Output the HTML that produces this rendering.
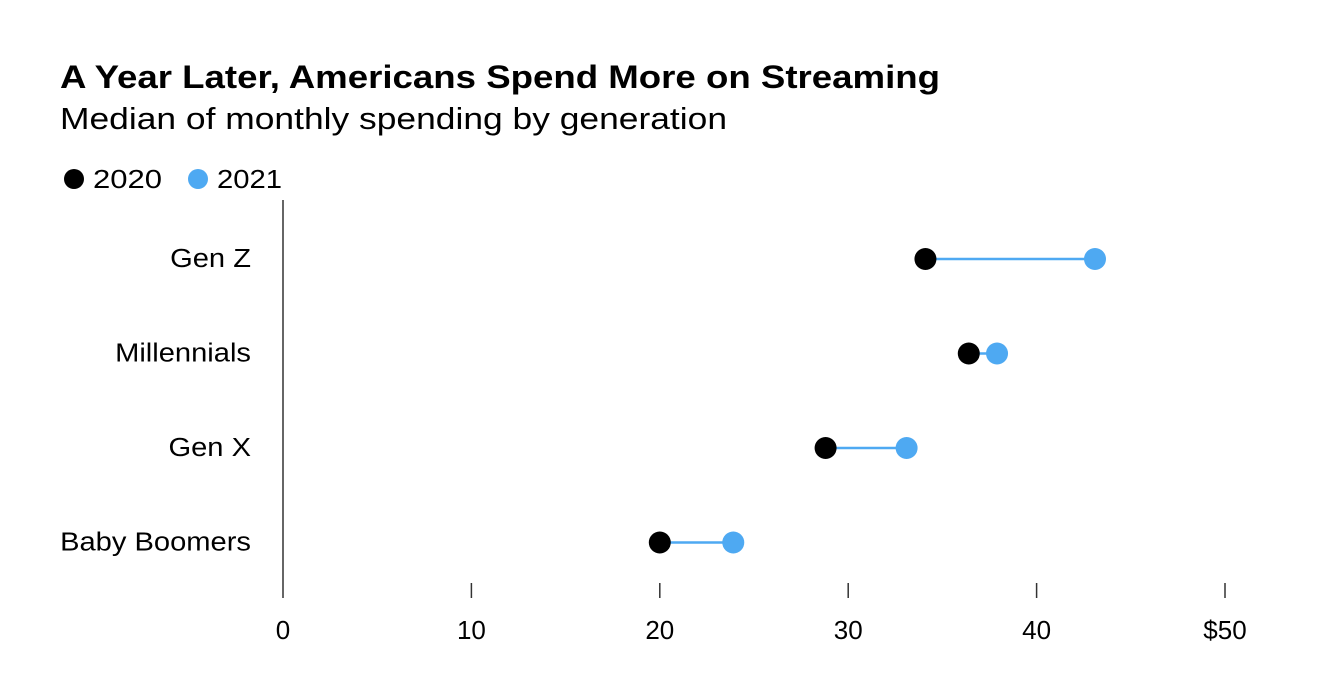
<!DOCTYPE html>
<html>
<head>
<meta charset="utf-8">
<style>
  html,body{margin:0;padding:0;background:#fff;}
  body{width:1342px;height:680px;overflow:hidden;font-family:"Liberation Sans",Arial,sans-serif;}
  svg text{font-family:"Liberation Sans",Arial,sans-serif;}
</style>
</head>
<body>
<svg id="chart" width="1342" height="680" viewBox="0 0 1342 680">
  <text x="60" y="88" font-size="32" font-weight="bold" fill="#000" textLength="880" lengthAdjust="spacingAndGlyphs">A Year Later, Americans Spend More on Streaming</text>
  <text x="60" y="129" font-size="31" fill="#000" textLength="667" lengthAdjust="spacingAndGlyphs">Median of monthly spending by generation</text>
  <g>
    <circle cx="74" cy="179" r="10" fill="#000"/>
    <text x="93" y="188" font-size="26" fill="#000" textLength="69" lengthAdjust="spacingAndGlyphs">2020</text>
    <circle cx="198" cy="179" r="10" fill="#4ea9f2"/>
    <text x="217" y="188" font-size="26" fill="#000" textLength="65" lengthAdjust="spacingAndGlyphs">2021</text>
  </g>
  <line x1="283" y1="200" x2="283" y2="598" stroke="#333" stroke-width="1.5"/>
  <g id="xaxis"></g>
  <g id="rows"></g>
</svg>
<script>
const categories = ["Gen Z", "Millennials", "Gen X", "Baby Boomers"];
const values2020 = [34.1, 36.4, 28.8, 20.0];
const values2021 = [43.1, 37.9, 33.1, 23.9];
const tickValues = [0, 10, 20, 30, 40, 50];
const tickLabels = ["0", "10", "20", "30", "40", "$50"];

const NS = "http://www.w3.org/2000/svg";
const x = v => 283 + v * (1225 - 283) / 50;
const y = i => 259 + i * 94.5;

const xaxis = document.getElementById("xaxis");
tickValues.forEach((t, i) => {
  if (t !== 0) {
    const l = document.createElementNS(NS, "line");
    l.setAttribute("x1", x(t)); l.setAttribute("x2", x(t));
    l.setAttribute("y1", 583); l.setAttribute("y2", 598);
    l.setAttribute("stroke", "#333"); l.setAttribute("stroke-width", 1.5);
    
    
    xaxis.appendChild(l);
  }
  const tx = document.createElementNS(NS, "text");
  tx.setAttribute("x", x(t)); tx.setAttribute("y", 639);
  tx.setAttribute("text-anchor", "middle"); tx.setAttribute("font-size", "26");
  tx.textContent = tickLabels[i];
  
  
  xaxis.appendChild(tx);
});

const rows = document.getElementById("rows");
categories.forEach((c, i) => {
  const g = document.createElementNS(NS, "g");
  
  
  const lab = document.createElementNS(NS, "text");
  lab.setAttribute("x", 251); lab.setAttribute("y", y(i) + 8);
  lab.setAttribute("text-anchor", "end"); lab.setAttribute("font-size", "26");
  lab.setAttribute("transform", "translate(251 0) scale(1.12 1) translate(-251 0)");
  lab.textContent = c;
  
  
  g.appendChild(lab);
  const ln = document.createElementNS(NS, "line");
  ln.setAttribute("x1", x(values2020[i])); ln.setAttribute("x2", x(values2021[i]));
  ln.setAttribute("y1", y(i)); ln.setAttribute("y2", y(i));
  ln.setAttribute("stroke", "#4ea9f2"); ln.setAttribute("stroke-width", 2.5);
  
  
  g.appendChild(ln);
  const d1 = document.createElementNS(NS, "circle");
  d1.setAttribute("cx", x(values2020[i])); d1.setAttribute("cy", y(i));
  d1.setAttribute("r", 11); d1.setAttribute("fill", "#000");
  
  
  g.appendChild(d1);
  const d2 = document.createElementNS(NS, "circle");
  d2.setAttribute("cx", x(values2021[i])); d2.setAttribute("cy", y(i));
  d2.setAttribute("r", 11); d2.setAttribute("fill", "#4ea9f2");
  
  
  g.appendChild(d2);
  rows.appendChild(g);
});
</script>
</body>
</html>
